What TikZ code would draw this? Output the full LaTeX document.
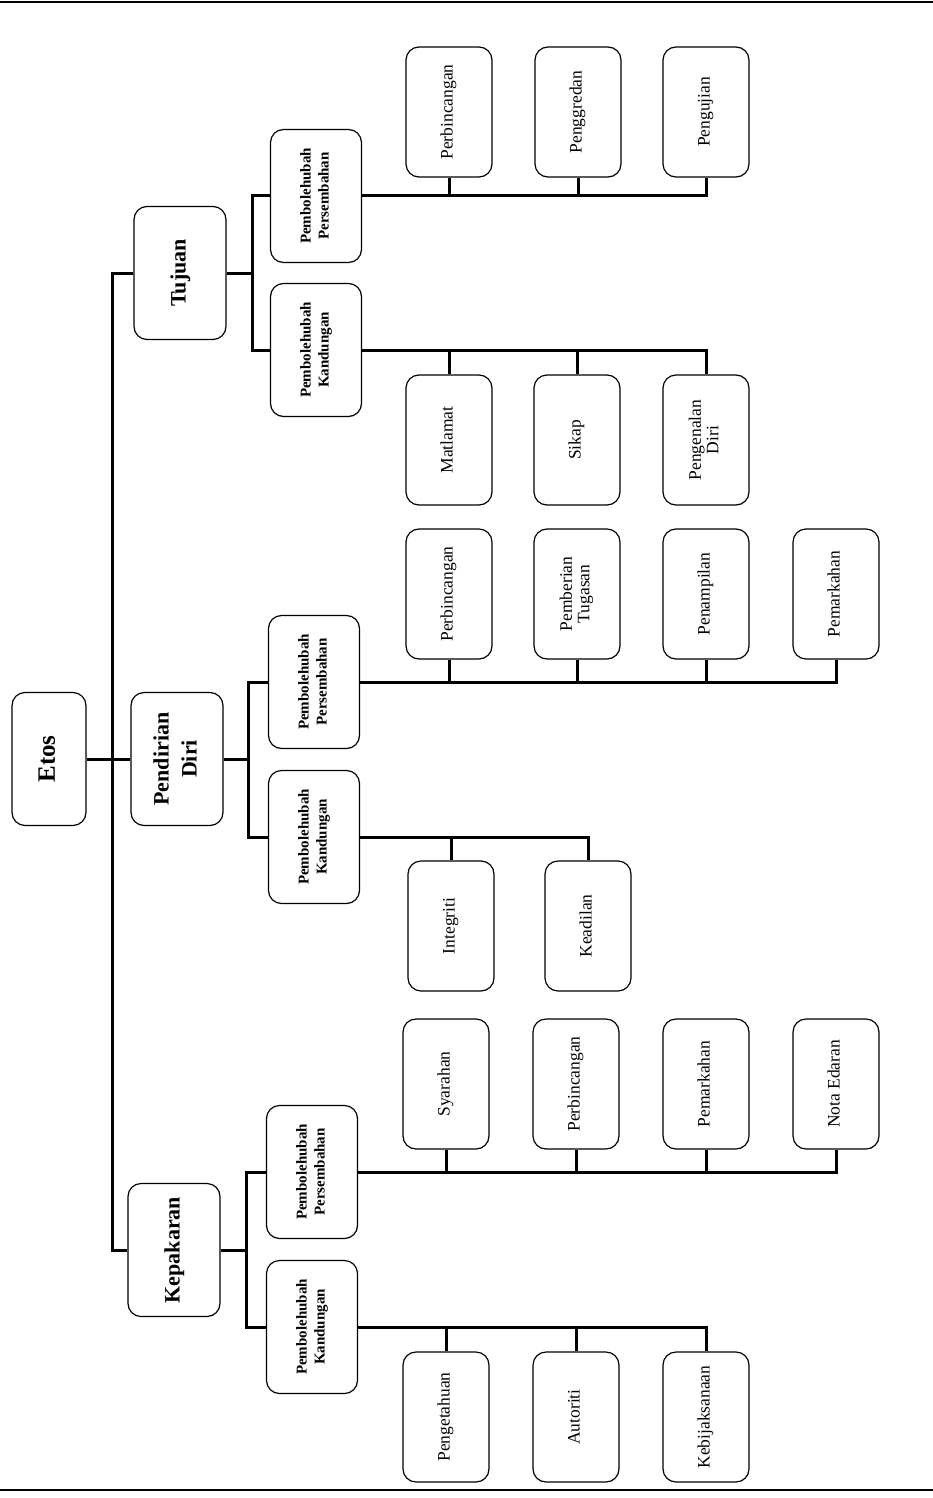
\documentclass[tikz,border=0pt]{standalone}
\usepackage{fontspec}
\setmainfont{Liberation Serif}
\usepackage{graphicx}
\newcommand{\rt}[1]{\rotatebox{90}{\begin{tabular}{@{}c@{}}#1\end{tabular}}}
\begin{document}
\begin{tikzpicture}[x=1pt,y=-1pt,
  box/.style={draw, line width=1.2pt, rounded corners=13pt, inner sep=0pt, anchor=center},
  lvlone/.style={box, minimum width=92pt, minimum height=133pt, font=\fontsize{22}{28}\selectfont\bfseries},
  lvltwo/.style={box, minimum width=91pt, minimum height=133pt, font=\fontsize{15}{18}\selectfont\bfseries},
  leaf/.style={box, minimum width=86pt, minimum height=130pt, font=\fontsize{17.5}{17.5}\selectfont},
  link/.style={line width=3pt},
  rule/.style={line width=2pt}
]
\useasboundingbox (0,0) rectangle (933,1498);
\draw[rule] (0,2) -- (933,2);
\draw[rule] (0,1490) -- (933,1490);

% level one
\node[lvlone, minimum width=74pt, font=\fontsize{25}{29}\selectfont\bfseries] (etos) at (49,759) {\rt{Etos}};
\node[lvlone] (tuj) at (180,273) {\rt{Tujuan}};
\node[lvlone] (pend) at (177,759) {\rt{Pendirian\\Diri}};
\node[lvlone] (kep) at (174,1250) {\rt{Kepakaran}};

% level two
\node[lvltwo] (tpp) at (316,196) {\rt{Pembolehubah\\Persembahan}};
\node[lvltwo] (tpk) at (316,350) {\rt{Pembolehubah\\Kandungan}};
\node[lvltwo] (ppp) at (314,682) {\rt{Pembolehubah\\Persembahan}};
\node[lvltwo] (ppk) at (314,837) {\rt{Pembolehubah\\Kandungan}};
\node[lvltwo] (kpp) at (312,1172) {\rt{Pembolehubah\\Persembahan}};
\node[lvltwo] (kpk) at (312,1327) {\rt{Pembolehubah\\Kandungan}};

% leaves: Tujuan
\node[leaf] (ta1) at (449,112) {\rt{Perbincangan}};
\node[leaf] (ta2) at (578,112) {\rt{Penggredan}};
\node[leaf] (ta3) at (706,112) {\rt{Pengujian}};
\node[leaf] (tb1) at (449,440) {\rt{Matlamat}};
\node[leaf] (tb2) at (577,440) {\rt{Sikap}};
\node[leaf] (tb3) at (706,440) {\rt{Pengenalan\\Diri}};
% leaves: Pendirian Diri
\node[leaf] (pa1) at (449,594) {\rt{Perbincangan}};
\node[leaf] (pa2) at (577,594) {\rt{Pemberian\\Tugasan}};
\node[leaf] (pa3) at (706,594) {\rt{Penampilan}};
\node[leaf] (pa4) at (836,594) {\rt{Pemarkahan}};
\node[leaf] (pb1) at (451,926) {\rt{Integriti}};
\node[leaf] (pb2) at (588,926) {\rt{Keadilan}};
% leaves: Kepakaran
\node[leaf] (ka1) at (446,1084) {\rt{Syarahan}};
\node[leaf] (ka2) at (576,1084) {\rt{Perbincangan}};
\node[leaf] (ka3) at (706,1084) {\rt{Pemarkahan}};
\node[leaf] (ka4) at (836,1084) {\rt{Nota Edaran}};
\node[leaf] (kb1) at (446,1417) {\rt{Pengetahuan}};
\node[leaf] (kb2) at (576,1417) {\rt{Autoriti}};
\node[leaf] (kb3) at (706,1417) {\rt{Kebijaksanaan}};

% bus coordinates
\coordinate (spine) at (112,0);
\coordinate (tbus) at (252,0);
\coordinate (pbus) at (248,0);
\coordinate (kbus) at (246,0);

% main spine
\draw[link] (tuj.west) -| (spine |- kep.west) -- (kep.west);
\draw[link] (etos.east) -- (pend.west);

% level one to level two
\draw[link] (tuj.east) -- (tuj.east -| tbus);
\draw[link] (tpp.west) -| (tbus |- tpk.west) -- (tpk.west);
\draw[link] (pend.east) -- (pend.east -| pbus);
\draw[link] (ppp.west) -| (pbus |- ppk.west) -- (ppk.west);
\draw[link] (kep.east) -- (kep.east -| kbus);
\draw[link] (kpp.west) -| (kbus |- kpk.west) -- (kpk.west);

% level two to leaves
\draw[link] (tpp.east) -| (ta3.south);
\foreach \n in {ta1,ta2} \draw[link] (\n.south) -- (\n.south |- tpp.east);
\draw[link] (tpk.east) -| (tb3.north);
\foreach \n in {tb1,tb2} \draw[link] (\n.north) -- (\n.north |- tpk.east);

\draw[link] (ppp.east) -| (pa4.south);
\foreach \n in {pa1,pa2,pa3} \draw[link] (\n.south) -- (\n.south |- ppp.east);
\draw[link] (ppk.east) -| (pb2.north);
\draw[link] (pb1.north) -- (pb1.north |- ppk.east);

\draw[link] (kpp.east) -| (ka4.south);
\foreach \n in {ka1,ka2,ka3} \draw[link] (\n.south) -- (\n.south |- kpp.east);
\draw[link] (kpk.east) -| (kb3.north);
\foreach \n in {kb1,kb2} \draw[link] (\n.north) -- (\n.north |- kpk.east);
\end{tikzpicture}
\end{document}
